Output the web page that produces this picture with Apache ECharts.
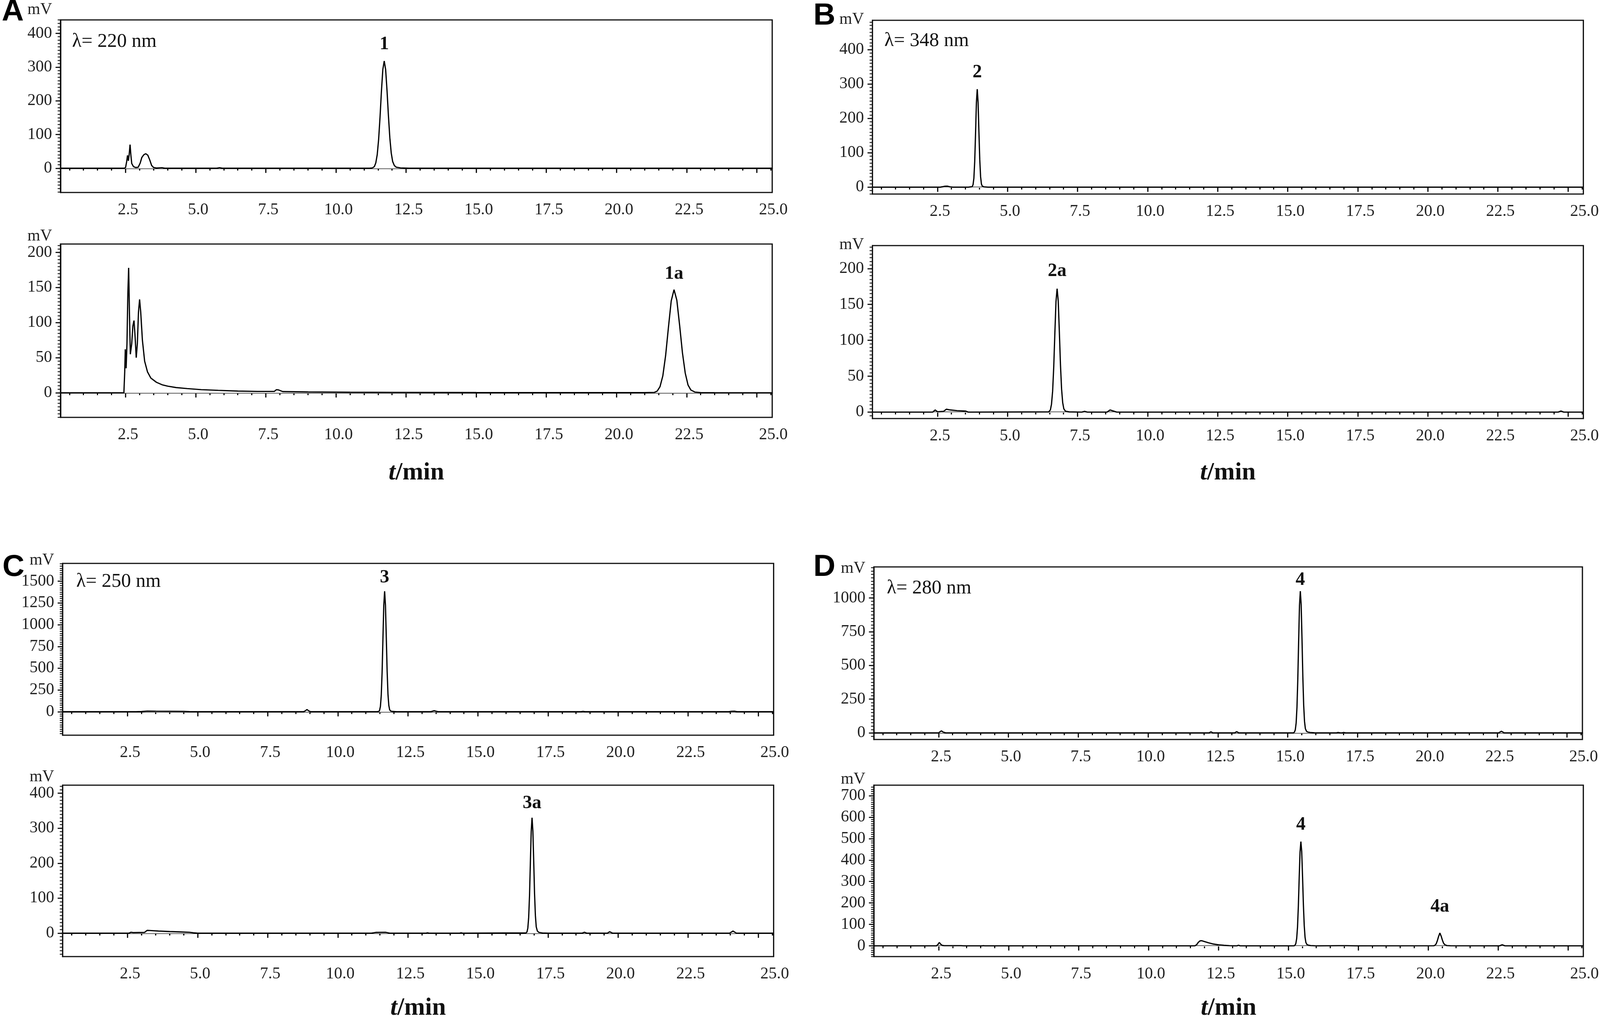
<!DOCTYPE html>
<html>
<head>
<meta charset="utf-8">
<script src="https://cdn.jsdelivr.net/npm/echarts@6/dist/echarts.min.js"></script>
<style>
  html, body { margin: 0; padding: 0; background: #fff; overflow: hidden; }
  #chart { width: 100vw; height: 100vh; }
</style>
</head>
<body>
<div id="chart"></div>
<script>
// retention time axis (min)
var timeRange = [0.18, 25.55];
var timeLabels = [2.5, 5.0, 7.5, 10.0, 12.5, 15.0, 17.5, 20.0, 22.5, 25.0];
var timeMinorStep = 0.5;

// mV tick labels of every panel
var yLabelsA1 = [0, 100, 200, 300, 400];
var yLabelsA2 = [0, 50, 100, 150, 200];
var yLabelsB1 = [0, 100, 200, 300, 400];
var yLabelsB2 = [0, 50, 100, 150, 200];
var yLabelsC1 = [0, 250, 500, 750, 1000, 1250, 1500];
var yLabelsC2 = [0, 100, 200, 300, 400];
var yLabelsD1 = [0, 250, 500, 750, 1000];
var yLabelsD2 = [0, 100, 200, 300, 400, 500, 600, 700];

// chromatograms, [t (min), signal (mV)]
var traceA1 = [
  [0.18, 0], [2.45, 0], [2.5, 2], [2.54, 20], [2.57, 38], [2.6, 22], [2.63, 42], [2.66, 70], [2.69, 38],
  [2.72, 14], [2.78, 5], [2.86, 2], [2.95, 3], [3.02, 15], [3.08, 32], [3.15, 40], [3.22, 43], [3.29, 39],
  [3.36, 25], [3.43, 8], [3.5, 2], [3.6, 0.5], [3.8, 1.5], [3.9, 0], [5.75, 0], [5.85, 1.5], [5.95, 0],
  [11.2, 0], [11.3, 1], [11.37, 5], [11.42, 16], [11.47, 40], [11.52, 85], [11.57, 151], [11.62, 228],
  [11.67, 293], [11.72, 318], [11.77, 293], [11.82, 230], [11.87, 155], [11.92, 90], [11.97, 45],
  [12.02, 20], [12.08, 8], [12.15, 3], [12.3, 1], [12.6, 0], [25.55, 0]
];
var traceA2 = [
  [0.18, 0], [2.44, 0], [2.47, 30], [2.49, 62], [2.52, 35], [2.55, 70], [2.58, 140], [2.61, 178],
  [2.64, 110], [2.67, 55], [2.72, 70], [2.76, 95], [2.8, 103], [2.84, 80], [2.88, 50], [2.92, 70],
  [2.96, 115], [3.0, 133], [3.04, 115], [3.1, 75], [3.18, 45], [3.28, 30], [3.4, 21], [3.6, 15],
  [3.8, 11.5], [4.0, 9.5], [4.3, 7.5], [4.7, 6], [5.2, 4.5], [5.8, 3.5], [6.5, 2.5], [7.2, 2], [7.8, 2],
  [7.88, 4.5], [7.96, 4], [8.1, 1.8], [9.0, 1.2], [10.5, 0.8], [12.0, 0.6], [15.0, 0.4], [18.0, 0.3],
  [21.0, 0.3], [21.35, 0.6], [21.45, 2.5], [21.55, 8.7], [21.65, 24], [21.75, 53], [21.85, 93],
  [21.95, 131], [22.05, 147], [22.15, 132], [22.25, 96], [22.35, 57], [22.45, 28], [22.55, 11],
  [22.65, 4], [22.8, 1], [23.0, 0.3], [23.5, 0.2], [25.55, 0]
];
var traceB1 = [
  [0.18, 0], [2.6, 0], [2.75, 2.5], [2.85, 3], [2.95, 1], [3.05, 0], [3.6, 0], [3.74, 1.5], [3.77, 7],
  [3.8, 26], [3.83, 75], [3.86, 157], [3.89, 246], [3.92, 285], [3.95, 246], [3.98, 160], [4.01, 80],
  [4.04, 30], [4.07, 9], [4.1, 3], [4.16, 1], [4.3, 0], [25.55, 0]
];
var traceB2 = [
  [0.18, 0], [2.33, 0], [2.42, 3], [2.5, 0.5], [2.72, 1], [2.82, 4], [2.95, 3], [3.2, 2], [3.5, 1.5],
  [3.6, 0], [6.47, 0.3], [6.53, 3], [6.57, 11], [6.61, 29], [6.65, 63], [6.69, 110], [6.73, 154],
  [6.77, 172], [6.81, 155], [6.85, 112], [6.89, 66], [6.93, 32], [6.97, 13], [7.01, 4.5], [7.07, 1.2],
  [7.2, 0.3], [7.65, 0], [7.75, 1], [7.85, 0], [8.55, 0], [8.66, 3], [8.78, 1.5], [8.9, 0],
  [24.65, 0], [24.75, 1.5], [24.85, 0], [25.55, 0]
];
var traceC1 = [
  [0.18, 0], [2.8, 0], [3.0, 2], [3.2, 7], [3.5, 6], [4.0, 5], [4.5, 4], [4.7, 1], [5.0, 0],
  [8.78, 0], [8.84, 10], [8.9, 25], [8.96, 10], [9.03, 0], [11.4, 0], [11.46, 3], [11.49, 15],
  [11.52, 61], [11.55, 187], [11.58, 450], [11.61, 840], [11.64, 1220], [11.67, 1385], [11.7, 1225],
  [11.73, 850], [11.76, 465], [11.79, 200], [11.82, 72], [11.85, 22], [11.89, 7], [11.95, 3],
  [12.1, 0.5], [12.2, 0], [13.32, 0], [13.38, 6], [13.44, 12], [13.5, 6], [13.58, 0], [18.68, 0],
  [18.75, 4], [18.82, 0], [23.95, 0], [24.05, 5], [24.15, 6], [24.25, 0], [25.55, 0]
];
var traceC2 = [
  [0.18, 0], [2.55, 0], [2.62, 2.5], [2.7, 1.5], [3.1, 2], [3.2, 8], [3.3, 7.5], [3.6, 6], [4.0, 4.5],
  [4.4, 3.5], [4.7, 2.5], [4.85, 1], [5.0, 0], [11.2, 0], [11.35, 2], [11.7, 2.5], [11.85, 0],
  [13.15, 0], [13.2, 1], [13.25, 0], [14.35, 0], [14.4, 1], [14.45, 0], [16.72, 0.7], [16.75, 3.6],
  [16.78, 14.5], [16.81, 45], [16.84, 107], [16.87, 200], [16.9, 290], [16.93, 330], [16.96, 292],
  [16.99, 205], [17.02, 112], [17.05, 50], [17.08, 18], [17.12, 6], [17.18, 2], [17.3, 0.5], [17.5, 0],
  [18.72, 0], [18.8, 2.5], [18.88, 0], [19.62, 0], [19.7, 4], [19.8, 0], [23.98, 0], [24.1, 6],
  [24.22, 0], [25.55, 0]
];
var traceD1 = [
  [0.18, 0], [2.5, 0], [2.55, 8], [2.6, 15], [2.66, 6], [2.75, 0], [12.18, 0], [12.25, 8], [12.32, 0],
  [13.1, 0], [13.17, 9], [13.25, 0], [15.2, 0], [15.24, 6], [15.27, 23], [15.3, 73], [15.33, 191],
  [15.36, 402], [15.39, 686], [15.42, 945], [15.45, 1050], [15.48, 950], [15.51, 695], [15.54, 415],
  [15.57, 205], [15.6, 85], [15.63, 32], [15.67, 12], [15.72, 6], [15.8, 3], [15.95, 1], [16.1, 0],
  [16.75, 0], [16.8, 3], [16.88, 0], [16.95, 0], [17.0, 3], [17.07, 0], [22.55, 0], [22.65, 12],
  [22.75, 0], [25.55, 0]
];
var traceD2 = [
  [0.18, 0], [2.42, 0], [2.47, 6], [2.52, 16], [2.57, 8], [2.63, 2], [2.7, 1], [3.3, 1], [3.4, 0],
  [4.05, 0], [4.1, 1], [4.15, 0], [11.65, 0], [11.72, 5], [11.78, 16], [11.84, 23], [11.9, 24],
  [12.0, 20], [12.15, 14], [12.3, 9], [12.5, 5], [12.7, 2.5], [12.9, 1], [13.1, 0], [13.16, 0],
  [13.22, 3], [13.28, 0], [15.2, 0], [15.24, 3], [15.27, 11], [15.3, 34], [15.33, 88], [15.36, 186],
  [15.39, 318], [15.42, 437], [15.45, 486], [15.48, 440], [15.51, 322], [15.54, 192], [15.57, 95],
  [15.6, 39], [15.63, 15], [15.67, 6], [15.72, 3], [15.8, 1.5], [15.95, 0.5], [16.1, 0], [16.8, 1],
  [17.1, 1], [17.4, 0], [20.2, 0.5], [20.25, 3], [20.29, 10], [20.33, 24], [20.37, 42], [20.42, 60],
  [20.47, 44], [20.51, 27], [20.55, 13], [20.6, 5], [20.67, 1.5], [20.8, 0.5], [22.55, 0],
  [22.65, 5], [22.75, 0], [25.55, 0]
];

// peak labels: [label, retention time]
var peaksA1 = [['1', 11.72]];
var peaksA2 = [['1a', 22.05]];
var peaksB1 = [['2', 3.92]];
var peaksB2 = [['2a', 6.77]];
var peaksC1 = [['3', 11.67]];
var peaksC2 = [['3a', 16.93]];
var peaksD1 = [['4', 15.45]];
var peaksD2 = [['4', 15.45], ['4a', 20.42]];

var serif = '"Liberation Serif", "Times New Roman", serif';
var ink = '#111';

// the layout is measured on a 4550 x 2615 sheet and stretched to the real viewport
var dom = document.getElementById('chart');
var sx = dom.clientWidth / 4550, sy = dom.clientHeight / 2615;
function X(v) { return v * sx; }
function Y(v) { return v * sy; }
function F(v) { return v * sy; }
var lw = Math.min(sx, sy) * 3.5;

var panels = [
  { trace: traceA1, peaks: peaksA1, yLabels: yLabelsA1, yMin: -72, yMax: 440, yMinor: 10,
    box: [172, 51, 2024, 442], mvGap: 26, peakGap: [18] },
  { trace: traceA2, peaks: peaksA2, yLabels: yLabelsA2, yMin: -35, yMax: 212, yMinor: 5,
    box: [172, 625, 2024, 444], mvGap: 12, peakGap: [16], xName: 110 },
  { trace: traceB1, peaks: peaksB1, yLabels: yLabelsB1, yMin: -20, yMax: 485, yMinor: 10,
    box: [2481, 52, 2023, 445], mvGap: 2, peakGap: [18] },
  { trace: traceB2, peaks: peaksB2, yLabels: yLabelsB2, yMin: -9, yMax: 232, yMinor: 5,
    box: [2481, 629, 2023, 443], mvGap: 2, peakGap: [20], xName: 107 },
  { trace: traceC1, peaks: peaksC1, yLabels: yLabelsC1, yMin: -270, yMax: 1705, yMinor: 25,
    box: [178, 1443, 2022, 440], mvGap: 8, peakGap: [10] },
  { trace: traceC2, peaks: peaksC2, yLabels: yLabelsC2, yMin: -67, yMax: 423, yMinor: 10,
    box: [178, 2011, 2022, 444], mvGap: 13, peakGap: [12], xName: 100 },
  { trace: traceD1, peaks: peaksD1, yLabels: yLabelsD1, yMin: -49, yMax: 1230, yMinor: 25,
    box: [2485, 1452, 2015, 442], mvGap: -4, peakGap: [4] },
  { trace: traceD2, peaks: peaksD2, yLabels: yLabelsD2, yMin: -50, yMax: 749, yMinor: 10,
    box: [2485, 2011, 2018, 442], mvGap: 7, peakGap: [18, 42], xName: 100 }
];

function steps(min, max, step) {
  var out = [];
  for (var v = Math.ceil(min / step) * step; v <= max + 1e-9; v += step) {
    out.push(Math.round(v * 1000) / 1000);
  }
  return out;
}

function heightAt(trace, t) {
  for (var k = 0; k < trace.length; k++) {
    if (Math.abs(trace[k][0] - t) < 1e-6) return trace[k][1];
  }
  return 0;
}

var grids = [], xAxes = [], yAxes = [], series = [];
var timeMinor = steps(timeRange[0], timeRange[1], timeMinorStep);
var labelFont = F(42);

panels.forEach(function (p, i) {
  grids.push({
    left: X(p.box[0]), top: Y(p.box[1]), width: X(p.box[2]), height: Y(p.box[3]),
    show: true, borderColor: ink, borderWidth: lw
  });

  var xMain = {
    type: 'value', gridIndex: i, position: 'bottom', min: timeRange[0], max: timeRange[1],
    axisLine: { show: true, lineStyle: { color: ink, width: lw } },
    axisTick: { show: true, customValues: timeLabels, length: Y(12), lineStyle: { color: ink, width: lw } },
    axisLabel: {
      customValues: timeLabels, margin: Y(24), fontFamily: serif, fontSize: labelFont, color: '#222',
      padding: [0, 0, 0, X(14)],
      formatter: function (v) { return Math.abs(v - 25) < 1e-9 ? '{last|25.0}' : v.toFixed(1); },
      rich: { last: { fontFamily: serif, fontSize: labelFont, color: '#222', padding: [0, 0, 0, X(80)] } }
    },
    splitLine: { show: false }
  };
  if (p.xName) {
    xMain.name = '{i|t}{n|/min}';
    xMain.nameLocation = 'middle';
    xMain.nameGap = Y(p.xName);
    xMain.nameTextStyle = {
      rich: {
        i: { fontFamily: serif, fontStyle: 'italic', fontWeight: 'bold', fontSize: F(64), color: ink },
        n: { fontFamily: serif, fontWeight: 'bold', fontSize: F(64), color: ink }
      }
    };
  }
  xAxes.push(xMain, {
    type: 'value', gridIndex: i, position: 'bottom', min: timeRange[0], max: timeRange[1],
    axisLine: { show: false },
    axisTick: { show: true, customValues: timeMinor, length: Y(6), lineStyle: { color: ink, width: lw } },
    axisLabel: { show: false },
    splitLine: { show: false }
  });

  yAxes.push({
    type: 'value', gridIndex: i, position: 'left', min: p.yMin, max: p.yMax,
    name: 'mV', nameLocation: 'end', nameGap: Y(p.mvGap),
    nameTextStyle: { fontFamily: serif, fontSize: labelFont, color: '#222', align: 'right',
      verticalAlign: 'middle', padding: [0, X(24), 0, 0] },
    axisLine: { show: true, lineStyle: { color: ink, width: lw } },
    axisTick: { show: true, customValues: p.yLabels, length: X(14), lineStyle: { color: ink, width: lw * 0.9 } },
    axisLabel: { customValues: p.yLabels, margin: X(24), fontFamily: serif, fontSize: labelFont,
      color: '#222', padding: [Y(24), 0, 0, 0],
      formatter: function (v) { return String(v); } },
    splitLine: { show: false }
  }, {
    type: 'value', gridIndex: i, position: 'left', min: p.yMin, max: p.yMax,
    axisLine: { show: false },
    axisTick: { show: true, customValues: steps(p.yMin, p.yMax, p.yMinor), length: X(8),
      lineStyle: { color: ink, width: lw * 0.7 } },
    axisLabel: { show: false },
    splitLine: { show: false }
  });

  series.push({
    type: 'line', xAxisIndex: 2 * i, yAxisIndex: 2 * i,
    data: p.trace, showSymbol: false, smooth: false, z: 3,
    lineStyle: { color: '#000', width: lw },
    markLine: {
      silent: true, symbol: 'none', z: 1, label: { show: false },
      lineStyle: { color: '#cfcfcf', width: lw * 0.7, type: 'solid' },
      data: [{ yAxis: 0 }]
    },
    markPoint: {
      silent: true, symbol: 'rect', symbolSize: 1, itemStyle: { color: 'rgba(0,0,0,0)' },
      label: { show: true, position: 'top', formatter: '{b}', fontFamily: serif,
        fontWeight: 'bold', fontSize: F(48), color: ink },
      data: p.peaks.map(function (pk, k) {
        return { name: pk[0], coord: [pk[1], heightAt(p.trace, pk[1])],
          label: { distance: Y(p.peakGap[k]) } };
      })
    }
  });
});

var letterStyle = { fontFamily: '"Liberation Sans", Arial, sans-serif', fontWeight: 'bold',
  fontSize: F(78), color: '#000' };
var lambdaStyle = { fontFamily: serif, fontSize: F(50), lineHeight: F(50), color: ink, fontWeight: 'normal' };

var titles = [
  { text: 'A', left: X(5), top: Y(-8), padding: 0, textStyle: letterStyle },
  { text: 'B', left: X(2313), top: Y(2), padding: 0, textStyle: letterStyle },
  { text: 'C', left: X(7), top: Y(1414), padding: 0, textStyle: letterStyle },
  { text: 'D', left: X(2313), top: Y(1414), padding: 0, textStyle: letterStyle },
  { text: 'λ= 220 nm', left: X(205), top: Y(82), padding: 0, textStyle: lambdaStyle },
  { text: 'λ= 348 nm', left: X(2515), top: Y(80), padding: 0, textStyle: lambdaStyle },
  { text: 'λ= 250 nm', left: X(217), top: Y(1465), padding: 0, textStyle: lambdaStyle },
  { text: 'λ= 280 nm', left: X(2522), top: Y(1482), padding: 0, textStyle: lambdaStyle }
];

var chart = echarts.init(dom);
chart.setOption({
  animation: false,
  backgroundColor: '#fff',
  title: titles,
  grid: grids,
  xAxis: xAxes,
  yAxis: yAxes,
  series: series
});
</script>
</body>
</html>
